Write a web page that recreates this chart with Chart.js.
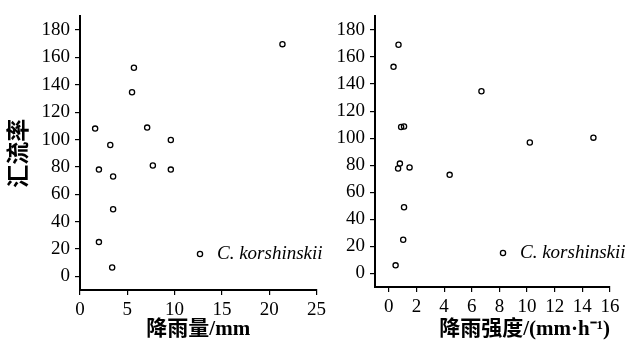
<!DOCTYPE html>
<html>
<head>
<meta charset="utf-8">
<script src="https://cdn.jsdelivr.net/npm/chart.js@4"></script>
<style>
  html, body { margin: 0; padding: 0; background: #fff; }
  #wrap { position: relative; width: 641px; height: 343px; overflow: hidden; }
  canvas { position: absolute; top: 0; }
</style>
</head>
<body>
<div id="wrap">
  <canvas id="left" width="330" height="343" style="left:0"></canvas>
  <canvas id="right" width="321" height="343" style="left:320px"></canvas>
</div>
<script>
// 降雨量 (mm) vs 汇流率
const rainAmount = [1.6, 2.0, 2.0, 3.2, 3.5, 3.5, 3.4, 5.5, 5.7, 7.1, 7.7, 9.6, 9.6, 21.4]
const runoffA    = [108, 78, 25, 96, 73, 49, 6.5, 134.5, 152.5, 108.7, 81, 99.6, 78, 169.7]

// 降雨强度 (mm·h-1) vs 汇流率
const rainIntensity = [0.7, 0.34, 6.7, 0.89, 1.1, 10.2, 14.8, 0.8, 0.67, 1.5, 4.4, 1.1, 1.04, 0.49]
const runoffB       = [169, 152.7, 134.7, 108.3, 108.6, 96.8, 100.4, 81.2, 77.6, 78.4, 72.9, 48.9, 24.9, 6.0]

const speciesName = 'C. korshinskii'

const serif = '"Liberation Serif", "Times New Roman", serif'
const mixed = '"Liberation Serif", "Noto Sans CJK SC", serif'

// legend drawn by hand inside the plot area
const legendPlugin = {
    id: 'handLegend',
    afterDatasetsDraw(chart, args, opts) {
        const ctx = chart.ctx
        ctx.save()
        ctx.beginPath()
        ctx.arc(opts.x, opts.y, 2.6, 0, Math.PI * 2)
        ctx.lineWidth = 1.3
        ctx.strokeStyle = '#000'
        ctx.stroke()
        ctx.font = 'italic 19px ' + serif
        ctx.fillStyle = '#000'
        ctx.textBaseline = 'middle'
        ctx.fillText(speciesName, opts.x + 17, opts.y)
        ctx.restore()
    }
}

const makeChart = (id, xs, ys, xOpts, yW, xH, pad, legendPos, yTitle) => {
    const ctx = document.getElementById(id)
    return new Chart(ctx, {
        type: 'scatter',
        data: {
            datasets: [{
                data: xs.map((x, i) => ({ x: x, y: ys[i] })),
                pointStyle: 'circle',
                pointRadius: 2.6,
                pointBorderWidth: 1.3,
                pointBorderColor: '#000',
                pointBackgroundColor: 'rgba(0,0,0,0)'
            }]
        },
        options: {
            responsive: false,
            animation: false,
            layout: { padding: pad },
            plugins: {
                legend: { display: false },
                tooltip: { enabled: false },
                handLegend: legendPos
            },
            scales: {
                x: {
                    type: 'linear',
                    min: xOpts.min,
                    max: xOpts.max,
                    border: { display: true, color: '#000', width: 2 },
                    grid: { drawOnChartArea: false, color: '#000', tickLength: 5, lineWidth: 1.2 },
                    ticks: {
                        stepSize: xOpts.step,
                        autoSkip: false,
                        maxRotation: 0,
                        padding: 4,
                        color: '#000',
                        font: { family: serif, size: 19 },
                        callback: xOpts.label
                    },
                    title: {
                        display: true,
                        text: xOpts.title,
                        align: xOpts.align,
                        color: '#000',
                        font: { family: mixed, size: 21, weight: 'bold' },
                        padding: { top: 0, bottom: 1 }
                    },
                    afterFit: (scale) => { scale.height = xH }
                },
                y: {
                    type: 'linear',
                    min: -10,
                    max: 190,
                    border: { display: true, color: '#000', width: 2 },
                    grid: { drawOnChartArea: false, color: '#000', tickLength: 5, lineWidth: 1.2 },
                    ticks: {
                        stepSize: 10,
                        autoSkip: false,
                        padding: 5,
                        color: '#000',
                        font: { family: serif, size: 19 },
                        callback: (v) => (v >= 0 && v <= 180 && v % 20 === 0) ? String(v) : null
                    },
                    title: {
                        display: !!yTitle,
                        text: yTitle || '',
                        color: '#000',
                        font: { family: mixed, size: 23, weight: 'bold' },
                        padding: { top: 6, bottom: 0 }
                    },
                    afterFit: (scale) => { scale.width = yW }
                }
            }
        },
        plugins: [legendPlugin]
    })
}

makeChart('left', rainAmount, runoffA,
    { min: 0, max: 25, step: 2.5, title: '降雨量/mm', align: 'center',
      label: (v) => (v % 5 === 0) ? String(v) : null },
    80, 53, { top: 11, right: 13, bottom: 0, left: 0 },
    { x: 200, y: 254 }, '汇流率')

makeChart('right', rainIntensity, runoffB,
    { min: -1, max: 16, step: 1, title: '降雨强度/(mm·h⁻¹)', align: 'end',
      label: (v) => (v >= 0 && v % 2 === 0) ? String(v) : null },
    55, 56, { top: 8, right: 31, bottom: 0, left: 0 },
    { x: 183, y: 253 }, null)
</script>
</body>
</html>
